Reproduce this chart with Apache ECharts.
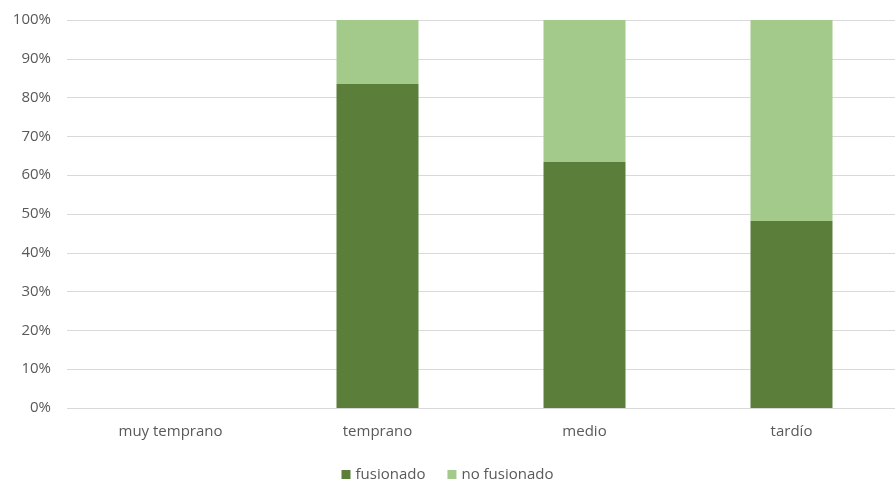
<!DOCTYPE html>
<html><head><meta charset="utf-8">
<script src="https://cdn.jsdelivr.net/npm/echarts@6/dist/echarts.min.js"></script>
<style>html,body{margin:0;padding:0;background:#fff}#c{width:895px;height:480px}</style>
</head><body><div id="c"></div>
<script>
const categories = ['muy temprano', 'temprano', 'medio', 'tardío'];
const fusionado = [null, 83.5, 63.4, 48.2];
const noFusionado = [null, 16.5, 36.6, 51.8];
const chart = echarts.init(document.getElementById('c'), null, {renderer: 'canvas'});
const font = '"Open Sans", "DejaVu Sans", sans-serif';
chart.setOption({
  animation: false,
  grid: {left: 67, right: -6, top: 20, bottom: 72, containLabel: false},
  legend: {
    top: 462, left: 'center', itemWidth: 9, itemHeight: 9, itemGap: 22, icon: 'rect',
    textStyle: {color: '#595959', fontSize: 15, fontFamily: font},
    data: ['fusionado', 'no fusionado']
  },
  xAxis: {
    type: 'category', data: categories,
    axisLine: {show: false}, axisTick: {show: false},
    axisLabel: {color: '#595959', fontSize: 15, fontFamily: font, margin: 16}
  },
  yAxis: {
    type: 'value', min: 0, max: 100, interval: 10,
    axisLabel: {formatter: '{value}%', color: '#595959', fontSize: 15, fontFamily: font, margin: 16},
    splitLine: {lineStyle: {color: '#d9d9d9', width: 1}},
    axisLine: {show: false}, axisTick: {show: false}
  },
  series: [
    {name: 'fusionado', type: 'bar', stack: 's', data: fusionado, barWidth: 82,
     itemStyle: {color: '#5b7f3a'}},
    {name: 'no fusionado', type: 'bar', stack: 's', data: noFusionado, barWidth: 82,
     itemStyle: {color: '#a3c98b'}}
  ]
});
</script></body></html>
